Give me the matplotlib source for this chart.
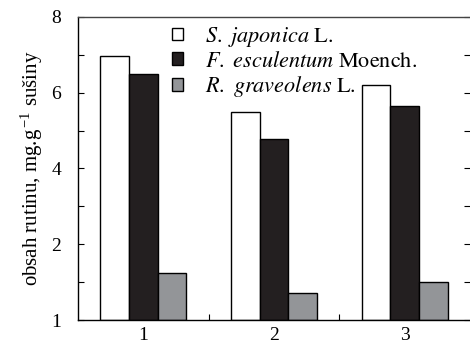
import numpy as np
from matplotlib import pyplot as plt
from matplotlib.ticker import FixedLocator

plt.rcParams["font.family"] = ["Liberation Serif", "DejaVu Serif"]
plt.rcParams["mathtext.fontset"] = "stix"

groups = ["1", "2", "3"]
s_japonica = [6.96, 5.48, 6.21]
f_esculentum = [6.49, 4.79, 5.64]
r_graveolens = [1.25, 0.71, 1.01]
ytick_vals = [0, 2, 4, 6, 8]
ytick_labels = ["1", "2", "4", "6", "8"]

fig = plt.figure(figsize=(4.70, 3.51), dpi=100)
ax = fig.add_axes([0.166, 0.0883, 0.834, 0.8633])

x = np.arange(1, len(groups) + 1)
w = 0.22
ax.bar(x - w, s_japonica, w, color="white", edgecolor="black", linewidth=1.0,
       label=r"$\mathit{S.\ japonica}\ \mathrm{L.}$")
ax.bar(x, f_esculentum, w, color="#231f20", edgecolor="black", linewidth=1.0,
       label=r"$\mathit{F.\ esculentum}\ \mathrm{Moench.}$")
ax.bar(x + w, r_graveolens, w, color="#939598", edgecolor="black", linewidth=1.0,
       label=r"$\mathit{R.\ graveolens}\ \mathrm{L.}$")

ax.set_xlim(0.5, 3.5)
ax.set_ylim(0, 8)
ax.set_xticks(x)
ax.set_xticklabels(groups, fontsize=14)
ax.xaxis.set_minor_locator(FixedLocator([1.5, 2.5]))
ax.tick_params(axis="x", which="major", length=0, pad=5)
ax.tick_params(axis="x", which="minor", direction="in", length=4, width=0.8)

ax.set_yticks(ytick_vals)
ax.set_yticklabels(ytick_labels, fontsize=14)
ax.yaxis.set_minor_locator(FixedLocator([1, 3, 5, 7]))
ax.tick_params(axis="y", which="both", direction="in", length=4, width=0.8,
               right=True, pad=12)

ax.spines["right"].set_visible(False)
for s in ["left", "bottom", "top"]:
    ax.spines[s].set_linewidth(1.0)
ax.spines["top"].set_color("#444444")

ax.set_ylabel(r"obsah rutinu, mg.g$^{\,\mathregular{-1}}$ sušiny", fontsize=15, labelpad=5)

leg = ax.legend(loc="upper left", bbox_to_anchor=(0.2, 1.025), frameon=False,
                fontsize=16, handlelength=0.5, handleheight=0.5,
                handletextpad=1.0, labelspacing=0.12, borderaxespad=0.3)

fig.savefig("out.png", dpi=100)
